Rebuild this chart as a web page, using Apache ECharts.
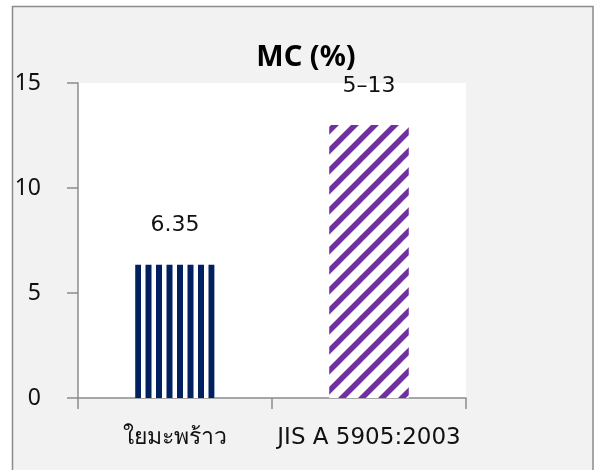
<!DOCTYPE html>
<html>
<head>
<meta charset="utf-8">
<script src="https://cdn.jsdelivr.net/npm/echarts@6/dist/echarts.min.js"></script>
<style>
  html, body { margin: 0; padding: 0; background: #ffffff; }
  #chart { width: 594px; height: 470px; }
</style>
</head>
<body>
<div id="chart"></div>
<script>
// Moisture content of coconut-leaf board vs. the JIS A 5905:2003 requirement
const categories = ['ใยมะพร้าว', 'JIS A 5905:2003'];
const sampleValue = 6.35;          // measured MC (%)
const standardRange = [5, 13];     // allowed MC range (%)
const yTicks = [0, 5, 10, 15];

const barValues = [sampleValue, standardRange[1]];
const barLabels = [String(sampleValue), standardRange[0] + '–' + standardRange[1]];

const WIDE_FONT = '"DejaVu Sans", "Noto Sans", sans-serif';
const FONT = '"Noto Sans", "DejaVu Sans", sans-serif';

// Vertical navy stripes (period 10.5 px)
function verticalStripes() {
  const c = document.createElement('canvas');
  c.width = 21; c.height = 8;
  const g = c.getContext('2d');
  g.fillStyle = '#ffffff';
  g.fillRect(0, 0, 21, 8);
  g.fillStyle = '#002060';
  g.fillRect(9, 0, 6, 8);
  g.fillRect(19.5, 0, 1.5, 8);
  g.fillRect(0, 0, 4.5, 8);
  return c;
}

// Diagonal purple stripes running bottom-left to top-right
function diagonalStripes() {
  const s = 20;
  const c = document.createElement('canvas');
  c.width = s; c.height = s;
  const g = c.getContext('2d');
  g.fillStyle = '#ffffff';
  g.fillRect(0, 0, s, s);
  g.strokeStyle = '#7030a0';
  g.lineWidth = 5.5;
  g.beginPath();
  g.moveTo(-s, s); g.lineTo(s, -s);
  g.moveTo(0, 2 * s); g.lineTo(2 * s, 0);
  g.moveTo(0, s); g.lineTo(s, 0);
  g.stroke();
  return c;
}

const chart = echarts.init(document.getElementById('chart'), null, { renderer: 'canvas' });

chart.setOption({
  animation: false,
  backgroundColor: '#ffffff',
  graphic: [{
    type: 'rect',
    z: -10,
    shape: { x: 12.5, y: 6.5, width: 580.5, height: 470 },
    style: { fill: '#f2f2f2', stroke: '#8a8a8a', lineWidth: 1.5 },
    silent: true
  }],
  title: {
    text: 'MC (%)',
    left: 301,
    top: 38,
    textAlign: 'center',
    textStyle: { fontFamily: FONT, fontSize: 29, fontWeight: 'bold', color: '#000000' }
  },
  grid: {
    left: 78, right: 128, top: 83, bottom: 72,
    show: true, backgroundColor: '#ffffff', borderWidth: 0
  },
  xAxis: {
    type: 'category',
    data: categories,
    axisLine: { show: true, lineStyle: { color: '#8c8c8c', width: 1.5 } },
    axisTick: { show: true, length: 11, lineStyle: { color: '#8c8c8c', width: 1.5 } },
    axisLabel: { interval: 0, margin: 29, fontFamily: WIDE_FONT, fontSize: 23, color: '#111111' }
  },
  yAxis: {
    type: 'value',
    min: yTicks[0],
    max: yTicks[yTicks.length - 1],
    interval: yTicks[1] - yTicks[0],
    axisLine: { show: true, lineStyle: { color: '#8c8c8c', width: 1.5 } },
    axisTick: { show: true, length: 11, lineStyle: { color: '#8c8c8c', width: 1.5 } },
    splitLine: { show: false },
    axisLabel: { margin: 37, fontFamily: FONT, fontSize: 23, color: '#111111' }
  },
  series: [{
    type: 'bar',
    barWidth: '41%',
    data: [
      { value: barValues[0], itemStyle: { color: { image: verticalStripes(), repeat: 'repeat' } } },
      { value: barValues[1], itemStyle: { color: { image: diagonalStripes(), repeat: 'repeat' } } }
    ],
    label: {
      show: true,
      position: 'top',
      distance: 28,
      fontFamily: WIDE_FONT,
      fontSize: 22,
      color: '#111111',
      formatter: p => barLabels[p.dataIndex]
    }
  }]
});
</script>
</body>
</html>
